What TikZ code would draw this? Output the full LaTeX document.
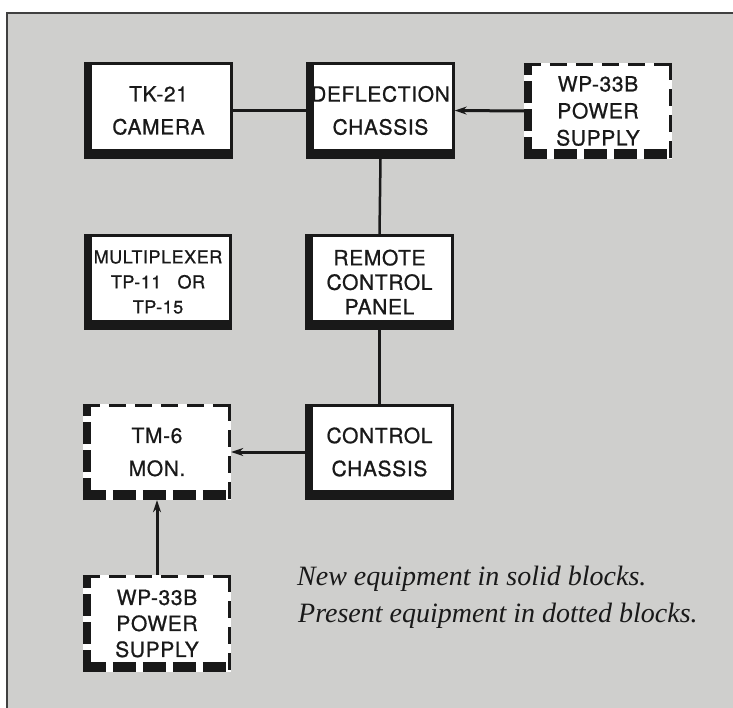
\documentclass[tikz,border=0pt]{standalone}
\usepackage{fontspec}
\setsansfont[LetterSpace=3,FakeBold=0.8]{TeX Gyre Heros}
\newfontfamily\legendfont{Liberation Serif}
\usetikzlibrary{calc,arrows.meta}
\pgfdeclarelayer{bg}
\pgfsetlayers{bg,main}
\definecolor{panel}{RGB}{207,207,205}
\definecolor{ink}{RGB}{25,25,25}
\newcommand\blkSolid[1]{%
  \fill[ink] (#1.north west) rectangle (#1.south east);
  \fill[white] ($(#1.north west)+(8,3)$) rectangle ($(#1.south east)+(-3,-10)$);}
\newcommand\blkDash[1]{%
  \fill[white] (#1.north west) rectangle (#1.south east);
  \draw[ink,line width=3pt,dash pattern=on 17pt off 9pt] ($(#1.north west)+(0,1.5)$) -- ($(#1.north east)+(0,1.5)$);
  \draw[ink,line width=3pt,dash pattern=on 17pt off 9pt] ($(#1.north east)+(-1.5,0)$) -- ($(#1.south east)+(-1.5,0)$);
  \draw[ink,line width=8pt,dash pattern=on 22pt off 6pt] ($(#1.south west)+(4,0)$) -- ($(#1.north west)+(4,0)$);
  \draw[ink,line width=10pt,dash pattern=on 23pt off 7pt] ($(#1.south west)+(0,-5)$) -- ($(#1.south east)+(0,-5)$);}
\begin{document}
\begin{tikzpicture}[x=1pt,y=-1pt,
  blk/.style={minimum width=148pt,minimum height=96pt,inner sep=0pt,align=center,text=ink,
    font=\sffamily\fontsize{21}{33}\selectfont},
  blk3/.style={blk,font=\sffamily\fontsize{21}{27}\selectfont},
  conn/.style={ink,line width=2.5pt},
  arr/.style={line width=3pt,-{Stealth[length=12pt,width=8pt]}},
  legend/.style={anchor=base west,inner sep=0pt,text=ink,font=\legendfont\itshape\fontsize{28}{30}\selectfont}]
\useasboundingbox (0,0) rectangle (733,708);
% boxes (text on main layer)
\node[blk] (cam)  at (158.5,110.5) {TK-21\\CAMERA};
\node[blk] (defl) at (380.5,110.5) {DEFLECTION\\CHASSIS};
\node[blk3] (wp1) at (598,111) {WP-33B\\POWER\\SUPPLY};
\node[blk,font=\sffamily\fontsize{18}{25}\selectfont] (mux) at (158,282) {MULTIPLEXER\\TP-11\hspace{0.9em}OR\\TP-15};
\node[blk,font=\sffamily\fontsize{21}{24.5}\selectfont] (rem) at (379.5,282) {REMOTE\\CONTROL\\PANEL};
\node[blk] (tm6)  at (157,452) {TM-6\\MON.};
\node[blk] (ctrl) at (379.5,452) {CONTROL\\CHASSIS};
\node[blk,font=\sffamily\fontsize{21}{26}\selectfont] (wp2) at (157,623.5) {WP-33B\\POWER\\SUPPLY};
% legend
\node[legend] (l1) at (297,585) {New equipment in solid blocks.};
\node[legend] (l2) at (298,622) {Present equipment in dotted blocks.};
\begin{pgfonlayer}{bg}
  \fill[white] (0,0) rectangle (733,708);
  \fill[panel] (7,13) rectangle (733,708);
  \draw[black!75,line width=1.5pt] (7,708) -- (7,13) -- (733,13);
  % connectors
  \draw[conn] (cam.east) -- (defl.west);
  \draw[conn,arr] (wp1.west) -- (defl.east);
  \draw[conn] (defl.south) -- (rem.north);
  \draw[conn] (rem.south) -- (ctrl.north);
  \draw[conn,arr] (ctrl.west) -- (tm6.east);
  \draw[conn,arr] (wp2.north) -- (tm6.south);
  % frames
  \blkSolid{cam}
  \blkSolid{defl}
  \blkDash{wp1}
  \blkSolid{mux}
  \blkSolid{rem}
  \blkDash{tm6}
  \blkSolid{ctrl}
  \blkDash{wp2}
\end{pgfonlayer}
\end{tikzpicture}
\end{document}
